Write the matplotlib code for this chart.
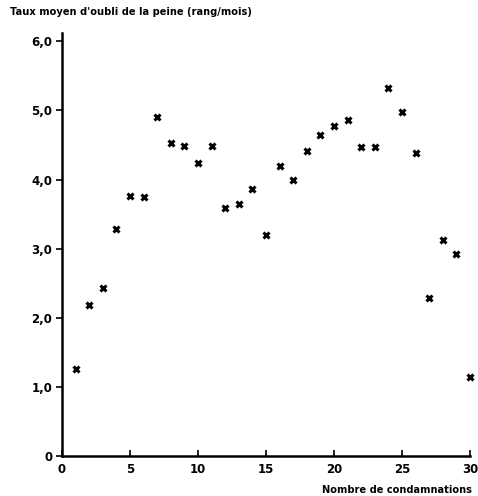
import matplotlib
matplotlib.use("Agg")
import matplotlib.pyplot as plt

# nombre de condamnations et taux moyen d'oubli de la peine
condamnations = list(range(1, 31))
taux = [1.26, 2.19, 2.43, 3.28, 3.76, 3.74, 4.90, 4.53, 4.49, 4.24,
        4.48, 3.59, 3.65, 3.87, 3.20, 4.20, 4.00, 4.41, 4.64, 4.77,
        4.86, 4.47, 4.47, 5.32, 4.97, 4.39, 2.29, 3.13, 2.92, 1.14]
yticks = [0, 1, 2, 3, 4, 5, 6]
ylabels = ["0", "1,0", "2,0", "3,0", "4,0", "5,0", "6,0"]
xticks = [0, 5, 10, 15, 20, 25, 30]

plt.rcParams["font.family"] = "DejaVu Sans"
plt.rcParams["font.weight"] = "bold"

fig = plt.figure(figsize=(4.78, 4.96), dpi=100)
ax = fig.add_axes([62 / 478, 40 / 496, 408 / 478, 423 / 496])

ax.plot(condamnations, taux, linestyle="none", marker="x", color="black",
        markersize=5, markeredgewidth=2.2, clip_on=False)

ax.set_xlim(0, 30)
ax.set_ylim(0, 6.12)
ax.spines["top"].set_visible(False)
ax.spines["right"].set_visible(False)
ax.spines["left"].set_linewidth(1.8)
ax.spines["bottom"].set_linewidth(1.8)

ax.set_xticks(xticks)
ax.set_xticklabels([str(v) for v in xticks], fontsize=8.5, fontweight="bold")
ax.set_yticks(yticks)
ax.set_yticklabels(ylabels, fontsize=8.5, fontweight="bold")
ax.tick_params(axis="x", direction="in", length=4, width=1.2, pad=5)
ax.tick_params(axis="y", direction="out", length=4, width=1.2, pad=3)

fig.text(10 / 478, 1 - 12 / 496, "Taux moyen d'oubli de la peine (rang/mois)",
         fontsize=7.1, fontweight="bold", ha="left", va="center")
fig.text(472 / 478, 1 - 490 / 496, "Nombre de condamnations",
         fontsize=7.1, fontweight="bold", ha="right", va="center")

fig.savefig("out.png", dpi=100)
